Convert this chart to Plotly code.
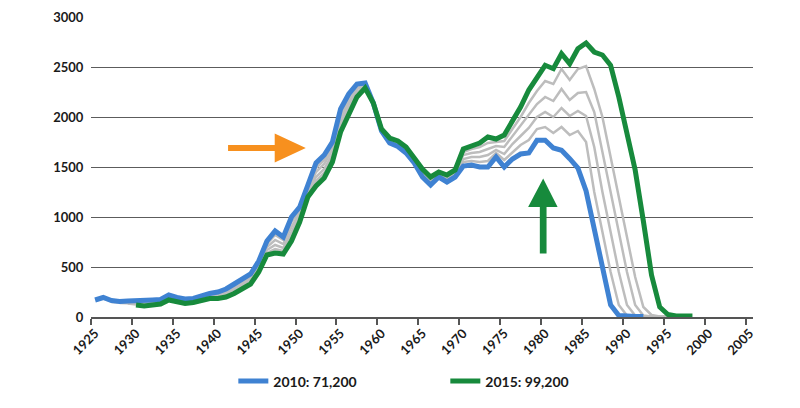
import plotly.graph_objs as go

# values per year, each series starts at its own first year
start2010 = 1925
vals2010 = [170, 195, 165, 155, 160, 160, 160, 170, 175, 220,
            195, 180, 185, 215, 235, 250, 280, 330, 380, 430,
            560, 760, 860, 800, 1000, 1100, 1320, 1540, 1620, 1750,
            2080, 2230, 2330, 2340, 2140, 1860, 1740, 1705, 1640, 1540,
            1400, 1320, 1400, 1350, 1400, 1510, 1520, 1500, 1500, 1600,
            1500, 1580, 1630, 1640, 1767, 1767, 1690, 1667, 1583, 1490,
            1260, 870, 470, 120, 15, 5, 5, 5]

start2011 = 1926
vals2011 = [185, 160, 150, 150, 150, 150, 160, 165, 210, 185,
            170, 175, 205, 225, 235, 265, 310, 360, 410, 540,
            730, 820, 770, 950, 1070, 1300, 1490, 1570, 1710, 2030,
            2190, 2300, 2330, 2140, 1870, 1750, 1720, 1650, 1550, 1420,
            1340, 1410, 1360, 1420, 1550, 1560, 1550, 1560, 1640, 1570,
            1650, 1720, 1770, 1880, 1900, 1840, 1900, 1820, 1860, 1750,
            1250, 850, 450, 120, 15, 5, 5, 5]

start2012 = 1927
vals2012 = [150, 145, 145, 140, 140, 150, 155, 200, 175, 160,
            165, 195, 215, 225, 250, 290, 340, 390, 520, 700,
            770, 730, 900, 1040, 1270, 1450, 1530, 1670, 1990, 2150,
            2280, 2320, 2140, 1870, 1760, 1730, 1660, 1560, 1440, 1350,
            1420, 1380, 1430, 1580, 1600, 1600, 1620, 1670, 1630, 1730,
            1810, 1890, 2000, 2050, 2000, 2090, 2010, 2060, 2010, 1700,
            1250, 850, 450, 120, 15, 5, 5, 5]

start2013 = 1928
vals2013 = [140, 140, 135, 125, 135, 145, 190, 165, 150, 155,
            185, 200, 210, 230, 270, 320, 370, 490, 670, 720,
            690, 850, 1010, 1250, 1400, 1480, 1630, 1940, 2120, 2250,
            2310, 2140, 1870, 1770, 1740, 1680, 1570, 1450, 1370, 1430,
            1390, 1450, 1620, 1640, 1650, 1680, 1710, 1700, 1810, 1910,
            2020, 2130, 2200, 2160, 2280, 2170, 2240, 2250, 2050, 1650,
            1250, 850, 450, 120, 15, 5, 5, 5]

start2014 = 1929
vals2014 = [135, 125, 115, 125, 135, 180, 155, 140, 150, 175,
            190, 195, 215, 250, 300, 350, 470, 640, 680, 660,
            800, 980, 1220, 1360, 1440, 1590, 1900, 2080, 2230, 2300,
            2140, 1870, 1780, 1750, 1690, 1580, 1470, 1390, 1440, 1410,
            1460, 1650, 1680, 1700, 1740, 1750, 1760, 1880, 2000, 2140,
            2260, 2360, 2330, 2480, 2370, 2480, 2510, 2280, 2000, 1600,
            1200, 800, 400, 100, 20, 5, 5, 5]

start2015 = 1930
vals2015 = [120, 110, 120, 130, 170, 150, 135, 145, 165, 185,
            185, 200, 235, 280, 330, 450, 620, 640, 630, 760,
            950, 1200, 1310, 1390, 1550, 1850, 2040, 2200, 2290, 2140,
            1880, 1790, 1760, 1700, 1590, 1480, 1400, 1450, 1420, 1470,
            1680, 1710, 1740, 1800, 1780, 1820, 1960, 2100, 2270, 2400,
            2517, 2483, 2633, 2533, 2683, 2740, 2650, 2620, 2517, 2200,
            1860, 1470, 960, 420, 100, 25, 10, 10, 10]

label2010 = '2010: 71,200'
label2015 = '2015: 99,200'

xticks = list(range(1925, 2006, 5))
yticks = list(range(0, 3001, 500))

blue = '#3F82D2'
green = '#178A3C'
grey = '#BDBDBD'
orange = '#F7901E'

def yrs(start, vals):
    return list(range(start, start + len(vals)))

fig = go.Figure()

for s, v in [(start2011, vals2011), (start2012, vals2012),
             (start2013, vals2013), (start2014, vals2014)]:
    fig.add_trace(go.Scatter(x=yrs(s, v), y=v, mode='lines',
                             line=dict(color=grey, width=2.5),
                             showlegend=False, hoverinfo='skip'))

fig.add_trace(go.Scatter(x=yrs(start2010, vals2010), y=vals2010, mode='lines',
                         name=label2010, line=dict(color=blue, width=5)))
fig.add_trace(go.Scatter(x=yrs(start2015, vals2015), y=vals2015, mode='lines',
                         name=label2015, line=dict(color=green, width=5)))

# arrows
fig.add_shape(type='path', xref='x', yref='y', line_width=0, fillcolor=orange,
              path='M 1941.25 1660 L 1946.95 1660 L 1946.95 1545 L 1950.75 1690 '
                   'L 1946.95 1835 L 1946.95 1720 L 1941.25 1720 Z')
fig.add_shape(type='path', xref='x', yref='y', line_width=0, fillcolor=green,
              path='M 1979.35 634 L 1979.35 1100 L 1977.92 1100 L 1979.76 1384 '
                   'L 1981.52 1100 L 1980.17 1100 L 1980.17 634 Z')

# the page body has an 8px margin, so the figure is 8px smaller than the window
fig.update_layout(
    width=792, height=400,
    margin=dict(l=83, r=47, t=9, b=91),
    plot_bgcolor='white', paper_bgcolor='white',
    xaxis=dict(range=[1924.5, 2005.4], tickvals=xticks, tickangle=-45,
               automargin=False,
               ticks='outside', ticklen=2, tickcolor='rgba(0,0,0,0)',
               tickfont=dict(family='Lato', size=13, color='#1a1a1a', weight='bold'),
               showgrid=False, zeroline=False,
               showline=True, linecolor='#555555', linewidth=1.5,
               minor=dict(tickmode='array', tickvals=[t - 0.5 for t in xticks],
                          ticks='outside', ticklen=6, tickcolor='#555555',
                          tickwidth=1.5, showgrid=False)),
    yaxis=dict(range=[0, 3000], tickvals=yticks, automargin=False,
               ticks='outside', ticklen=4, tickcolor='rgba(0,0,0,0)',
               tickfont=dict(family='Lato', size=13, color='#1a1a1a', weight='bold'),
               showgrid=True, gridcolor='#5c5c5c',
               gridwidth=1.2, zeroline=False, showline=False),
    legend=dict(orientation='h', x=0.215, y=-0.215, xanchor='left', yanchor='middle',
                font=dict(family='Lato', size=14, color='#1a1a1a', weight='bold'),
                entrywidth=167, entrywidthmode='pixels', itemwidth=30),
)

fig.write_html('out.html')
